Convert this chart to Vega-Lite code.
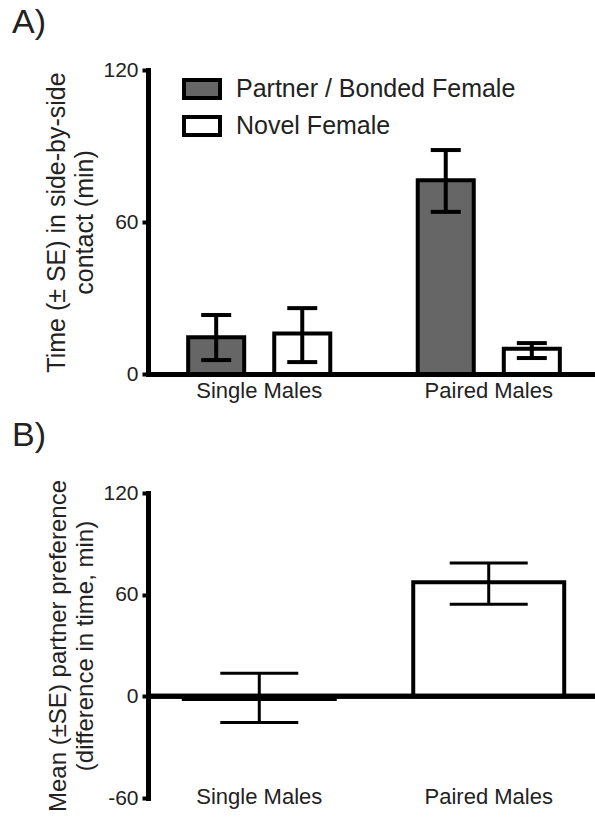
{
  "$schema": "https://vega.github.io/schema/vega-lite/v6.json",
  "padding": {"left": 12, "top": 6, "right": 0, "bottom": 0},
  "spacing": 17,
  "config": {
    "font": "Liberation Sans",
    "view": {"stroke": null},
    "axis": {
      "domainColor": "black",
      "domainWidth": 5,
      "domainCap": "square",
      "tickColor": "black",
      "tickWidth": 4,
      "labelColor": "#222",
      "titleColor": "#222",
      "labelFontSize": 21,
      "titleFontSize": 25,
      "titleFontWeight": "normal",
      "grid": false
    },
    "title": {"fontSize": 34, "fontWeight": "normal", "anchor": "start", "color": "#222", "frame": "group"}
  },
  "vconcat": [
    {
      "title": {"text": "A)", "dx": -136, "offset": 19},
      "width": 452,
      "height": 304,
      "data": {
        "values": [
          {"group": "Single Males", "female": "Partner / Bonded Female", "mean": 14.5, "lower": 5.5, "upper": 23.3},
          {"group": "Single Males", "female": "Novel Female", "mean": 16, "lower": 4.7, "upper": 26},
          {"group": "Paired Males", "female": "Partner / Bonded Female", "mean": 76.5, "lower": 64, "upper": 88.4},
          {"group": "Paired Males", "female": "Novel Female", "mean": 10, "lower": 6.3, "upper": 12.2}
        ]
      },
      "encoding": {
        "x": {
          "field": "group",
          "type": "nominal",
          "sort": ["Single Males", "Paired Males"],
          "scale": {"paddingInner": 0.381, "paddingOuter": 0.175},
          "axis": {"title": null, "labelAngle": 0, "ticks": false, "labelPadding": 6, "labelFontSize": 22}
        },
        "xOffset": {
          "field": "female",
          "type": "nominal",
          "sort": ["Partner / Bonded Female", "Novel Female"],
          "scale": {"paddingInner": 0.349, "paddingOuter": 0}
        }
      },
      "layer": [
        {
          "mark": {"type": "bar", "stroke": "black", "strokeWidth": 4, "opacity": 1},
          "encoding": {
            "y": {
              "field": "mean",
              "type": "quantitative",
              "scale": {"domain": [0, 120]},
              "axis": {
                "values": [0, 60, 120],
                "title": ["Time (± SE) in side-by-side", "contact (min)"],
                "titlePadding": 5,
                "titleLineHeight": 28,
                "tickSize": 6,
                "labelPadding": 4,
                "labelFontSize": 21,
                "labelExpr": "'' + datum.value"
              }
            },
            "fill": {
              "field": "female",
              "type": "nominal",
              "sort": ["Partner / Bonded Female", "Novel Female"],
              "scale": {"domain": ["Partner / Bonded Female", "Novel Female"], "range": ["#666666", "#ffffff"]},
              "legend": {
                "title": null,
                "orient": "none",
                "legendX": 34,
                "legendY": -1,
                "symbolType": "M-1,-0.5H1V0.5H-1Z",
                "symbolSize": 1296,
                "symbolStrokeColor": "black",
                "symbolStrokeWidth": 4,
                "symbolOpacity": 1,
                "labelFontSize": 25,
                "labelColor": "#222",
                "labelOffset": 14,
                "labelLimit": 400,
                "rowPadding": 0
              }
            }
          }
        },
        {
          "mark": {"type": "rule", "strokeWidth": 4, "color": "black", "opacity": 1},
          "encoding": {
            "y": {"field": "lower", "type": "quantitative"},
            "y2": {"field": "upper"}
          }
        },
        {
          "mark": {"type": "tick", "thickness": 4, "size": 30, "color": "black", "opacity": 1},
          "encoding": {"y": {"field": "lower", "type": "quantitative"}}
        },
        {
          "mark": {"type": "tick", "thickness": 4, "size": 30, "color": "black", "opacity": 1},
          "encoding": {"y": {"field": "upper", "type": "quantitative"}}
        }
      ]
    },
    {
      "title": {"text": "B)", "dx": -136, "offset": 27},
      "width": 452,
      "height": 305,
      "data": {
        "values": [
          {"group": "Single Males", "mean": -1.5, "lower": -15.4, "upper": 13.6},
          {"group": "Paired Males", "mean": 67.4, "lower": 54.4, "upper": 78.7}
        ]
      },
      "layer": [
        {
          "mark": {"type": "bar", "fill": "white", "stroke": "black", "strokeWidth": 4, "opacity": 1},
          "encoding": {
            "x": {
              "field": "group",
              "type": "nominal",
              "sort": ["Single Males", "Paired Males"],
              "scale": {"paddingInner": 0.342, "paddingOuter": 0.156},
              "axis": {"title": null, "labelAngle": 0, "ticks": false, "domain": false, "labelPadding": -12, "labelFontSize": 22}
            },
            "y": {
              "field": "mean",
              "type": "quantitative",
              "scale": {"domain": [-60, 120]},
              "axis": {
                "values": [-60, 0, 60, 120],
                "title": ["Mean (±SE) partner preference", "(difference in time, min)"],
                "titlePadding": 5,
                "titleFontSize": 24,
                "titleLineHeight": 27,
                "tickSize": 6,
                "labelPadding": 4,
                "labelFontSize": 21,
                "labelExpr": "'' + datum.value"
              }
            }
          }
        },
        {
          "mark": {"type": "rule", "strokeWidth": 5, "color": "black", "opacity": 1},
          "encoding": {"y": {"datum": 0}}
        },
        {
          "mark": {"type": "rule", "strokeWidth": 3, "color": "black", "opacity": 1},
          "encoding": {
            "x": {"field": "group", "type": "nominal", "sort": ["Single Males", "Paired Males"]},
            "y": {"field": "lower", "type": "quantitative"},
            "y2": {"field": "upper"}
          }
        },
        {
          "mark": {"type": "tick", "thickness": 3, "size": 78, "color": "black", "opacity": 1},
          "encoding": {
            "x": {"field": "group", "type": "nominal", "sort": ["Single Males", "Paired Males"]},
            "y": {"field": "lower", "type": "quantitative"}
          }
        },
        {
          "mark": {"type": "tick", "thickness": 3, "size": 78, "color": "black", "opacity": 1},
          "encoding": {
            "x": {"field": "group", "type": "nominal", "sort": ["Single Males", "Paired Males"]},
            "y": {"field": "upper", "type": "quantitative"}
          }
        }
      ]
    }
  ]
}
